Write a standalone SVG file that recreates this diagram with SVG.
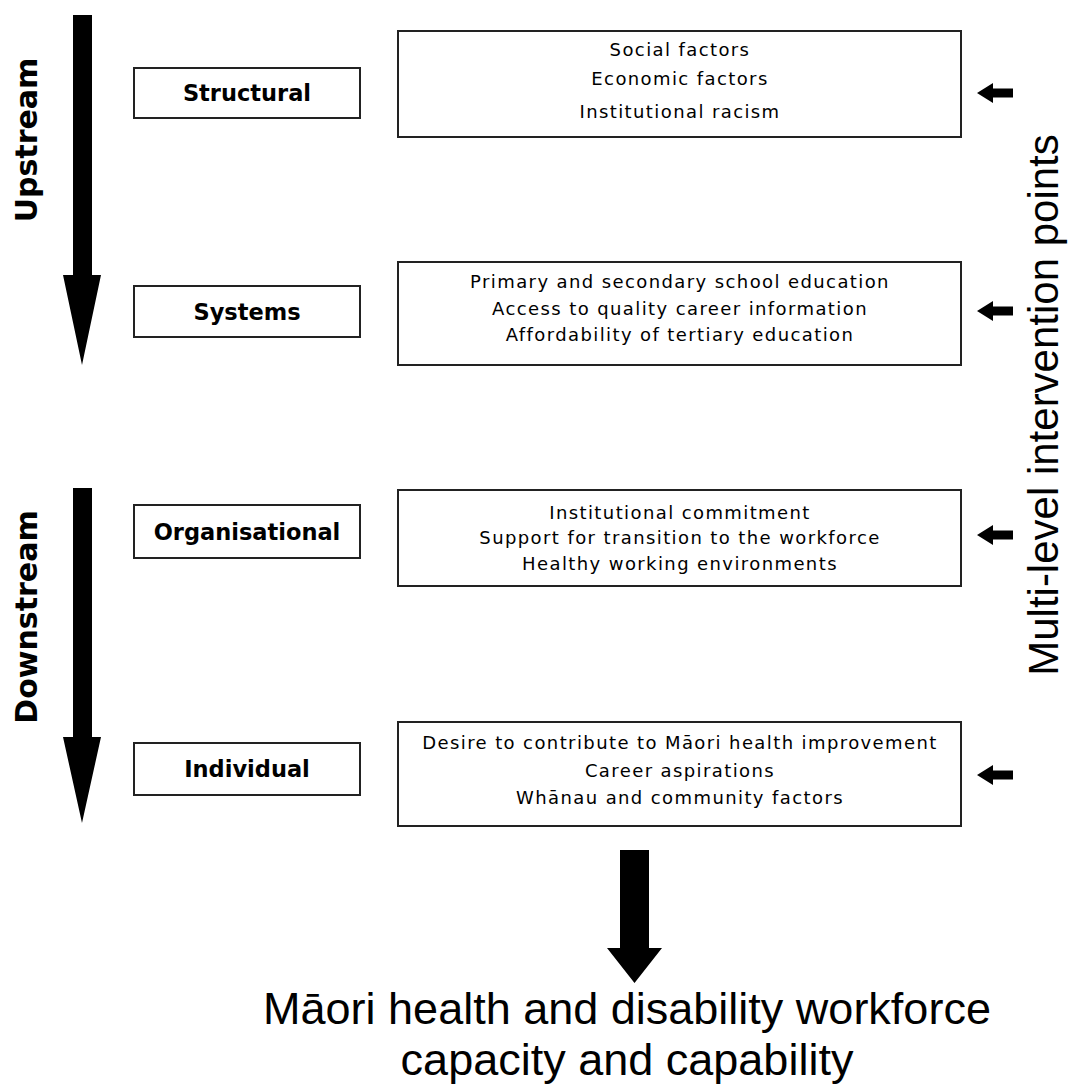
<svg xmlns="http://www.w3.org/2000/svg" width="1068" height="1084" viewBox="0 0 1068 1084">
<style>
.box{fill:#fff;stroke:#222;stroke-width:2}
.lbl{font-family:"DejaVu Sans",sans-serif;font-weight:bold;font-size:22.5px;fill:#000;text-anchor:middle}
.fac{font-family:"DejaVu Sans",sans-serif;font-size:18px;letter-spacing:1.4px;fill:#000;text-anchor:middle}
.side{font-family:"DejaVu Sans",sans-serif;font-weight:bold;font-size:30px;fill:#000;text-anchor:middle}
.big{font-family:"Liberation Sans",Arial,sans-serif;font-size:42px;fill:#000;text-anchor:middle}
.arr{fill:#000}
</style>
<defs>
<path id="small" d="M0,0 L16,-10 L16,-4.5 L36,-4.5 L36,4.5 L16,4.5 L16,10 Z"/>
</defs>
<rect width="1068" height="1084" fill="#fff"/>
<g id="connectors">
<path class="arr" d="M73,15 H92 V275 H101 L82,365 L63,275 H73 Z"/>
<path class="arr" d="M73,488 H92 V737 H101 L82,823 L63,737 H73 Z"/>
<path class="arr" d="M620,850 H649 V948 H662 L634.5,983 L607,948 H620 Z"/>
<use href="#small" x="977" y="93" class="arr"/>
<use href="#small" x="977" y="311" class="arr"/>
<use href="#small" x="977" y="535" class="arr"/>
<use href="#small" x="977" y="775" class="arr"/>
</g>
<g id="upstream"><text class="side" transform="translate(37,140) rotate(-90)">Upstream</text></g>
<g id="downstream"><text class="side" transform="translate(37,617) rotate(-90)">Downstream</text></g>
<g id="multilevel"><text class="big" transform="translate(1058,405) rotate(-90)">Multi-level intervention points</text></g>
<g id="structural"><rect class="box" x="134" y="68" width="226" height="50"/><text class="lbl" x="247" y="101">Structural</text></g>
<g id="systems"><rect class="box" x="134" y="286" width="226" height="51"/><text class="lbl" x="247" y="319.5">Systems</text></g>
<g id="organisational"><rect class="box" x="134" y="505" width="226" height="53"/><text class="lbl" x="247" y="539.5">Organisational</text></g>
<g id="individual"><rect class="box" x="134" y="743" width="226" height="52"/><text class="lbl" x="247" y="777">Individual</text></g>
<g id="structural-factors"><rect class="box" x="398" y="31" width="563" height="106"/>
<text class="fac" x="680" y="56">Social factors</text>
<text class="fac" x="680" y="85">Economic factors</text>
<text class="fac" x="680" y="118">Institutional racism</text></g>
<g id="systems-factors"><rect class="box" x="398" y="262" width="563" height="103"/>
<text class="fac" x="680" y="288">Primary and secondary school education</text>
<text class="fac" x="680" y="315">Access to quality career information</text>
<text class="fac" x="680" y="341">Affordability of tertiary education</text></g>
<g id="organisational-factors"><rect class="box" x="398" y="490" width="563" height="96"/>
<text class="fac" x="680" y="519">Institutional commitment</text>
<text class="fac" x="680" y="544">Support for transition to the workforce</text>
<text class="fac" x="680" y="570">Healthy working environments</text></g>
<g id="individual-factors"><rect class="box" x="398" y="722" width="563" height="104"/>
<text class="fac" x="680" y="749">Desire to contribute to Māori health improvement</text>
<text class="fac" x="680" y="777">Career aspirations</text>
<text class="fac" x="680" y="804">Whānau and community factors</text></g>
<g id="outcome">
<text class="big" x="627" y="1024" style="font-size:45px">Māori health and disability workforce</text>
<text class="big" x="627" y="1075" style="font-size:45px">capacity and capability</text>
</g>
</svg>
